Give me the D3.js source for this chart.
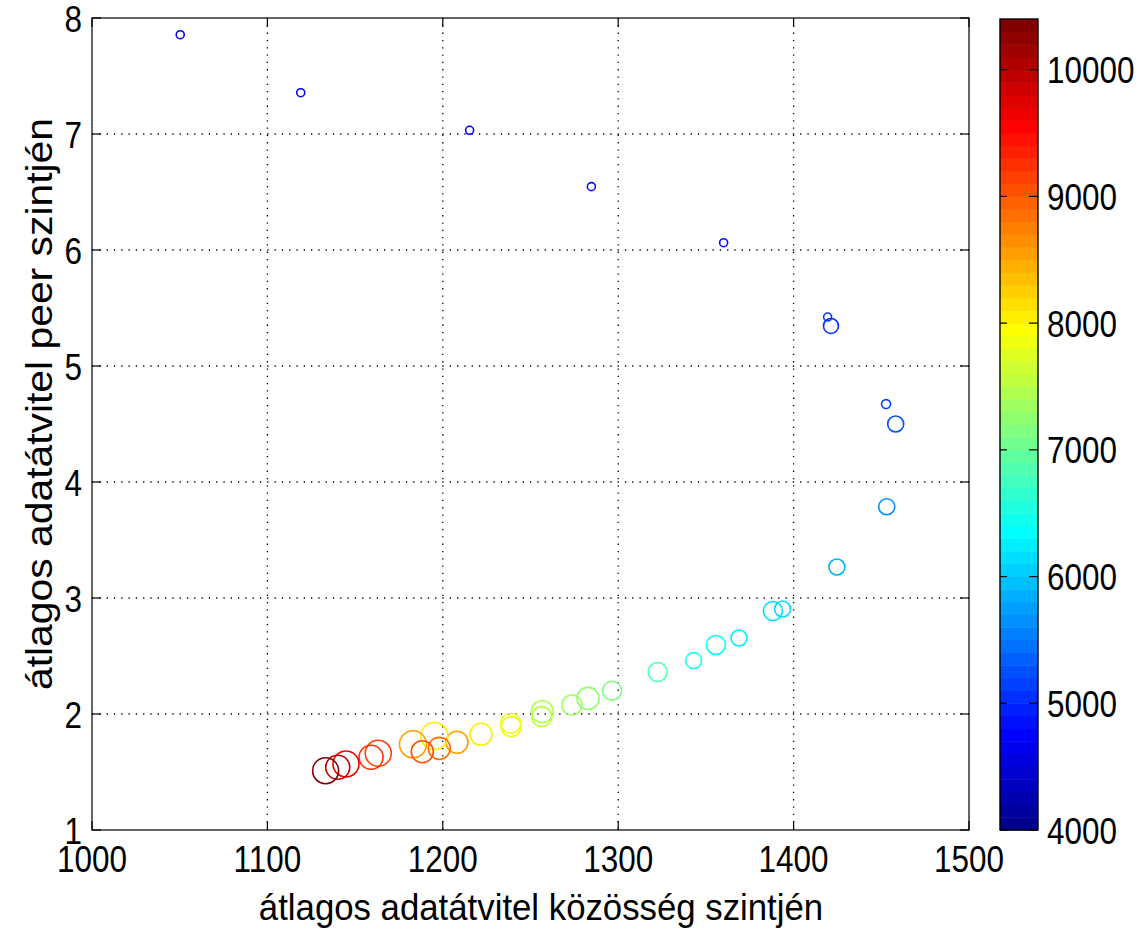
<!DOCTYPE html>
<html>
<head>
<meta charset="utf-8">
<script src="https://cdn.jsdelivr.net/npm/d3@7"></script>
<style>
  html, body { margin: 0; padding: 0; background: #fff; }
  svg { display: block; }
  text { font-family: "Liberation Sans", Arial, Helvetica, sans-serif; fill: #000; }
</style>
</head>
<body>
<svg id="chart" width="1146" height="935"></svg>
<script>
// ---------------- data ----------------
const xTicks = [1000, 1100, 1200, 1300, 1400, 1500];
const yTicks = [1, 2, 3, 4, 5, 6, 7, 8];
const cTicks = [4000, 5000, 6000, 7000, 8000, 9000, 10000];

// average community-level throughput (x)
const xValues = [1050.3, 1119.0, 1215.3, 1284.7, 1360.1, 1419.4, 1421.3, 1452.7, 1458.2, 1453.1,
                 1424.7, 1388.2, 1393.7, 1368.9, 1355.7, 1343.0, 1322.5, 1296.5, 1282.8, 1273.6,
                 1256.7, 1256.4, 1238.7, 1239.0, 1221.8, 1208.1, 1195.2, 1198.0, 1183.0, 1188.3,
                 1163.2, 1159.1, 1144.8, 1140.1, 1133.2];
// average peer-level throughput (y)
const yValues = [7.856, 7.356, 7.032, 6.546, 6.063, 5.422, 5.345, 4.672, 4.500, 3.787,
                 3.267, 2.888, 2.905, 2.655, 2.595, 2.460, 2.362, 2.201, 2.135, 2.078,
                 2.020, 1.977, 1.920, 1.891, 1.825, 1.756, 1.810, 1.704, 1.739, 1.675,
                 1.661, 1.627, 1.569, 1.541, 1.511];
// colour variable
const cValues = [4650, 4700, 4750, 4800, 4850, 5000, 5050, 5100, 5200, 5600,
                 5800, 6100, 6150, 6250, 6350, 6450, 6800, 7100, 7200, 7300,
                 7450, 7500, 7800, 7850, 8050, 8500, 8050, 8850, 8500, 9000,
                 9100, 9250, 9650, 9950, 10300];
// marker size variable (area units)
const sValues = [16, 16, 16, 16, 16, 16, 56, 20, 64, 64,
                 64, 90, 64, 64, 90, 64, 90, 90, 121, 100,
                 121, 100, 100, 100, 121, 121, 182, 121, 182, 121,
                 169, 144, 169, 144, 169];

const cDomain = [4000, 10400];

// ---------------- jet(64) colormap ----------------
function jet64() {
  const m = 64, n = 16;
  const u = [];
  for (let k = 1; k <= n; k++) u.push(k / n);
  for (let k = 0; k < n - 1; k++) u.push(1);
  for (let k = n; k >= 1; k--) u.push(k / n);
  const J = Array.from({length: m}, () => [0, 0, 0]);
  for (let k = 1; k <= u.length; k++) {
    const g = 8 + k, r = g + n, b = g - n;
    if (r >= 1 && r <= m) J[r - 1][0] = u[k - 1];
    if (g >= 1 && g <= m) J[g - 1][1] = u[k - 1];
    if (b >= 1 && b <= m) J[b - 1][2] = u[k - 1];
  }
  return J.map(c => d3.rgb(c[0] * 255, c[1] * 255, c[2] * 255).formatHex());
}
const jet = jet64();

// ---------------- scales ----------------
const svg = d3.select("#chart");
const L = 92, R = 969, T = 18, B = 830;
const x = d3.scaleLinear().domain([1000, 1500]).range([L, R]);
const y = d3.scaleLinear().domain([1, 8]).range([B, T]);
const color = d3.scaleQuantize().domain(cDomain).range(jet);
const rScale = d3.scaleSqrt().domain([0, 100]).range([0, 10]);

const FS = 37, SX = 0.85;

// ---------------- grid ----------------
const grid = svg.append("g");
grid.selectAll("line.vx").data(xTicks.slice(1, -1)).enter().append("line")
  .attr("x1", d => x(d)).attr("x2", d => x(d)).attr("y1", T).attr("y2", B)
  .attr("stroke", "#000").attr("stroke-width", 1.3).attr("stroke-dasharray", "1.3,6");
grid.selectAll("line.hy").data(yTicks.slice(1, -1)).enter().append("line")
  .attr("x1", L).attr("x2", R).attr("y1", d => y(d)).attr("y2", d => y(d))
  .attr("stroke", "#000").attr("stroke-width", 1.3).attr("stroke-dasharray", "1.3,6");

// ---------------- points ----------------
const pts = xValues.map((v, i) => ({x: v, y: yValues[i], c: cValues[i], s: sValues[i]}));
svg.append("g").selectAll("circle").data(pts).enter().append("circle")
  .attr("cx", d => x(d.x)).attr("cy", d => y(d.y)).attr("r", d => rScale(d.s))
  .attr("fill", "none").attr("stroke", d => color(d.c)).attr("stroke-width", 1.6);

// ---------------- axes box & ticks ----------------
svg.append("rect").attr("x", L).attr("y", T).attr("width", R - L).attr("height", B - T)
  .attr("fill", "none").attr("stroke", "#000").attr("stroke-width", 1.2);

const TL = 9;
const tk = svg.append("g").attr("stroke", "#000").attr("stroke-width", 1.2);
xTicks.forEach(t => {
  tk.append("line").attr("x1", x(t)).attr("x2", x(t)).attr("y1", B).attr("y2", B - TL);
  tk.append("line").attr("x1", x(t)).attr("x2", x(t)).attr("y1", T).attr("y2", T + TL);
});
yTicks.forEach(t => {
  tk.append("line").attr("x1", L).attr("x2", L + TL).attr("y1", y(t)).attr("y2", y(t));
  tk.append("line").attr("x1", R).attr("x2", R - TL).attr("y1", y(t)).attr("y2", y(t));
});

function label(px, py, txt, anchor, rot, sx) {
  return svg.append("text")
    .attr("transform", `translate(${px},${py})` + (rot ? ` rotate(${rot})` : "") + ` scale(${sx || SX},1)`)
    .attr("text-anchor", anchor).attr("font-size", FS).text(txt);
}

xTicks.forEach(t => label(x(t), 872, d3.format("d")(t), "middle"));
yTicks.forEach(t => label(82, y(t) + 13.5, d3.format("d")(t), "end"));

label(541, 920, "átlagos adatátvitel közösség szintjén", "middle", 0, 0.94);
svg.append("text")
  .attr("transform", "translate(52,404) rotate(-90)")
  .attr("text-anchor", "middle").attr("font-size", FS)
  .attr("textLength", 572).attr("lengthAdjust", "spacingAndGlyphs")
  .text("átlagos adatátvitel peer szintjén");

// ---------------- colorbar ----------------
const CL = 1000, CR = 1038, CT = 19, CB = 830;
const cy = d3.scaleLinear().domain(cDomain).range([CB, CT]);
const bands = d3.range(64).map(i => cDomain[0] + i * (cDomain[1] - cDomain[0]) / 64);
const bw = (cDomain[1] - cDomain[0]) / 64;
svg.append("g").selectAll("rect").data(bands).enter().append("rect")
  .attr("x", CL).attr("width", CR - CL)
  .attr("y", d => cy(d + bw)).attr("height", d => cy(d) - cy(d + bw) + 0.5)
  .attr("fill", d => color(d + bw / 2));
svg.append("rect").attr("x", CL).attr("y", CT).attr("width", CR - CL).attr("height", CB - CT)
  .attr("fill", "none").attr("stroke", "#000").attr("stroke-width", 1.4);
const ctk = svg.append("g").attr("stroke", "#000").attr("stroke-width", 1.2);
cTicks.forEach(t => {
  ctk.append("line").attr("x1", CL).attr("x2", CL + 7).attr("y1", cy(t)).attr("y2", cy(t));
  ctk.append("line").attr("x1", CR).attr("x2", CR - 9).attr("y1", cy(t)).attr("y2", cy(t));
  label(1047, cy(t) + 13.5, d3.format("d")(t), "start");
});
</script>
</body>
</html>
